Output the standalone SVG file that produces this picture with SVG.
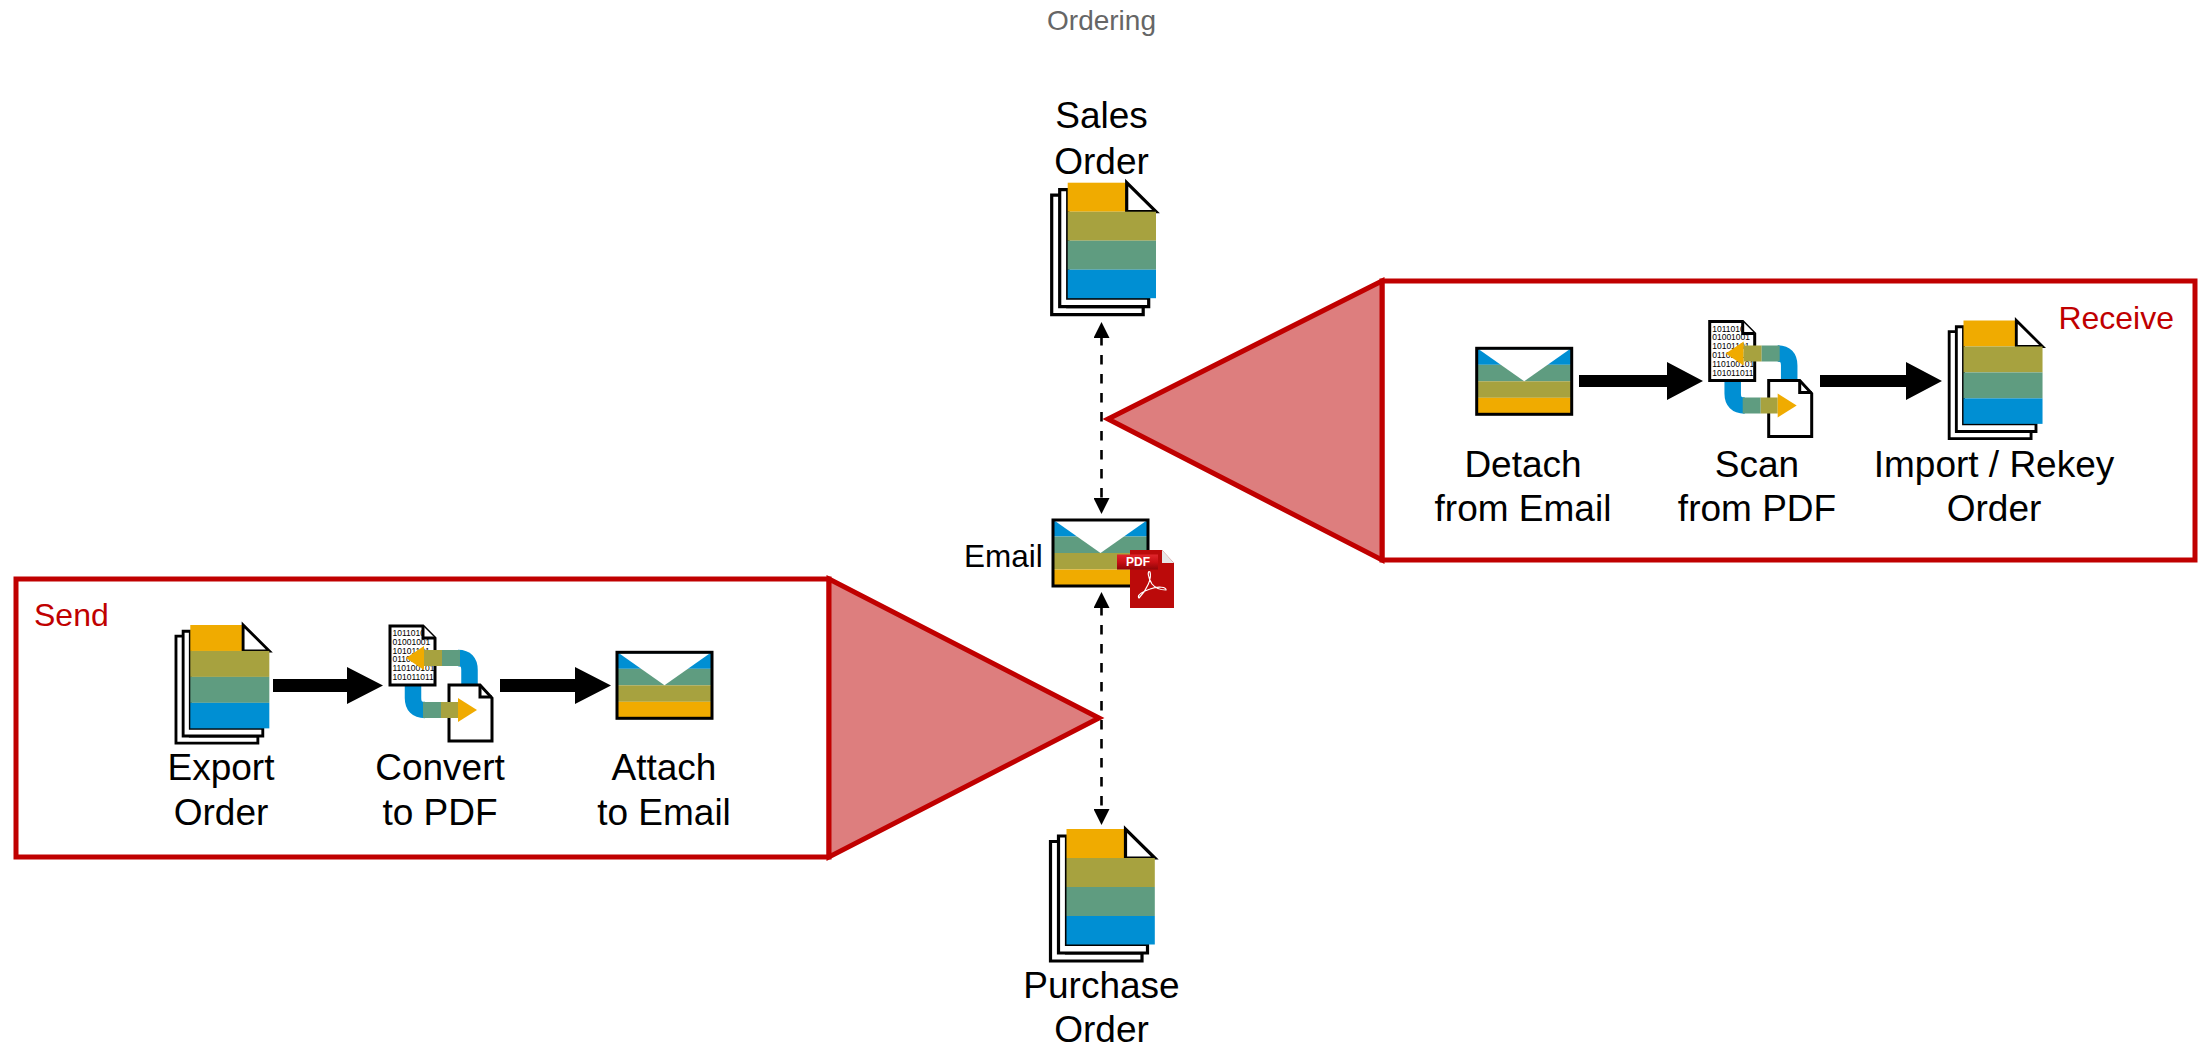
<svg xmlns="http://www.w3.org/2000/svg" width="2203" height="1045" viewBox="0 0 2203 1045">
<style>
text{font-family:"Liberation Sans",Arial,sans-serif;fill:#000}
.l{font-size:37px;text-anchor:middle}
.s{font-size:32px;fill:#c00000}
.gold{fill:#f0ab00}.olive{fill:#a7a23f}.green{fill:#5f9c80}.blue{fill:#008fd3}
.pg{fill:#fff;stroke:#000;stroke-width:3.2}
.box{fill:#fff;stroke:#c00000;stroke-width:5}
.tri{fill:#dd7e7e;stroke:#c00000;stroke-width:5;stroke-linejoin:miter}
.dash{fill:none;stroke:#000;stroke-width:2.6;stroke-dasharray:9.500 9.500}
.bin{font-size:8.500px;fill:#000}
</style>
<defs>
<marker id="ah" viewBox="0 0 16 16" refX="2" refY="8" markerWidth="16" markerHeight="16" markerUnits="userSpaceOnUse" orient="auto-start-reverse"><path d="M0 0L16 8L0 16z" fill="#000"/></marker>
<linearGradient id="ban" x1="0" y1="0" x2="0" y2="1"><stop offset="0" stop-color="#e0262c"/><stop offset=".5" stop-color="#c90f14"/><stop offset="1" stop-color="#8f0508"/></linearGradient>
<clipPath id="binclip"><path d="M391 627H423L434 639V684H391z"/></clipPath>
<g id="doc">
<path class="pg" d="M0 12.500H-16V132H75.500V124H0z"/>
<path class="pg" d="M0 7H-8V124H81V115.500H0z"/>
<rect class="gold" x="0" y="0" width="59" height="29"/>
<path d="M59 0V29H88.300z" fill="#fff" stroke="#000" stroke-width="3.200" stroke-linejoin="miter"/>
<rect class="olive" x="0" y="29" width="88.300" height="29"/>
<rect class="green" x="0" y="58" width="88.300" height="29"/>
<rect class="blue" x="0" y="87" width="88.300" height="28.500"/>
</g>
<g id="env">
<rect class="blue" x="0" y="0" width="95" height="16.500"/>
<rect class="green" x="0" y="16.500" width="95" height="16.500"/>
<rect class="olive" x="0" y="33" width="95" height="16.500"/>
<rect class="gold" x="0" y="49.500" width="95" height="16.500"/>
<path d="M2 1L47.500 33L93 1z" fill="#fff"/>
<rect x="0" y="0" width="95" height="66" fill="none" stroke="#000" stroke-width="3"/>
</g>
<g id="conv">
<path d="M413 685V698Q413 710 425 710" fill="none" stroke="#008fd3" stroke-width="16.500"/>
<path d="M458 658Q469.500 658 469.500 670V690" fill="none" stroke="#008fd3" stroke-width="16.500"/>
<path d="M449 685H480L492 698V741H449z" fill="#fff" stroke="#000" stroke-width="3"/>
<path d="M480 685V697H492" fill="none" stroke="#000" stroke-width="3"/>
<path d="M390 626H423L435 638V685H390z" fill="#fff" stroke="#000" stroke-width="3"/>
<g clip-path="url(#binclip)">
<text class="bin" x="392.500" y="636">1011010</text>
<text class="bin" x="392.500" y="644.500">01001001</text>
<text class="bin" x="392.500" y="653.500">10101101</text>
<text class="bin" x="392.500" y="662">01101011</text>
<text class="bin" x="392.500" y="671">110100101</text>
<text class="bin" x="392.500" y="680">101011011</text>
</g>
<path d="M423 626V638H435" fill="#fff" stroke="#000" stroke-width="3"/>
<path class="gold" d="M406 658L424 646V670z"/>
<rect class="olive" x="424" y="650" width="18" height="16"/>
<rect class="green" x="442" y="650" width="18" height="16"/>
<rect class="green" x="423" y="702" width="18" height="16"/>
<rect class="olive" x="441" y="702" width="17" height="16"/>
<path class="gold" d="M458 698L477 710L458 722z"/>
</g>
</defs>

<text id="title" x="1101.500" y="30" font-size="28" text-anchor="middle" style="fill:#666">Ordering</text>

<g id="connectors">
<path class="dash" d="M1101.500 336V500" marker-start="url(#ah)" marker-end="url(#ah)"/>
<path class="dash" d="M1101.500 606V811" marker-start="url(#ah)" marker-end="url(#ah)"/>
</g>

<g id="send-callout">
<rect class="box" x="16" y="579" width="813" height="278"/>
<path class="tri" d="M829 579L1099 718L829 857z"/>
<text class="s" x="34" y="626">Send</text>
</g>
<g id="receive-callout">
<rect class="box" x="1382" y="281" width="813" height="279"/>
<path class="tri" d="M1382 281L1108 419L1382 560z"/>
<text class="s" x="2174" y="329" text-anchor="end">Receive</text>
</g>

<g id="sales-order">
<use href="#doc" transform="translate(1067.700 182.700)"/>
<text class="l" x="1101.500" y="128">Sales</text>
<text class="l" x="1101.500" y="174">Order</text>
</g>
<g id="purchase-order">
<use href="#doc" transform="translate(1066.500 829)"/>
<text class="l" x="1101.500" y="998">Purchase</text>
<text class="l" x="1101.500" y="1041.500">Order</text>
</g>
<g id="email">
<use href="#env" transform="translate(1053 520)"/>
<g id="pdf">
<path d="M1130 550H1162L1174 563V608H1130z" fill="#bb0a0a"/>
<path d="M1162 550L1174 563H1162z" fill="#e6e6e6"/>
<rect x="1117" y="554.500" width="41" height="15" fill="url(#ban)"/>
<text x="1138" y="566" font-size="12" font-weight="bold" text-anchor="middle" style="fill:#fff">PDF</text>
<path d="M1139 598C1147 590 1152 578 1150 572C1147 570 1148 578 1152 584C1156 589 1162 590 1166 590C1167 587 1158 586 1150 589C1144 591 1136 595 1139 598z" fill="none" stroke="#fff" stroke-width="1.200"/>
</g>
<text x="964" y="567" font-size="31.500">Email</text>
</g>

<g id="export-order">
<use href="#doc" transform="translate(190.300 625) scale(.895)"/>
<text class="l" x="221" y="780">Export</text>
<text class="l" x="221" y="825">Order</text>
</g>
<g id="convert-pdf">
<use href="#conv"/>
<text class="l" x="440" y="780">Convert</text>
<text class="l" x="440" y="825">to PDF</text>
</g>
<g id="attach-email">
<use href="#env" transform="translate(617 652.300)"/>
<text class="l" x="664" y="780">Attach</text>
<text class="l" x="664" y="825">to Email</text>
</g>
<g id="detach-email">
<use href="#env" transform="translate(1476.700 348.300)"/>
<text class="l" x="1523" y="476.500">Detach</text>
<text class="l" x="1523" y="521">from Email</text>
</g>
<g id="scan-pdf">
<use href="#conv" transform="translate(1319.700 -304.500)"/>
<text class="l" x="1757" y="476.500">Scan</text>
<text class="l" x="1757" y="521">from PDF</text>
</g>
<g id="import-order">
<use href="#doc" transform="translate(1963.500 320.500) scale(.895)"/>
<text class="l" x="1994" y="476.500">Import / Rekey</text>
<text class="l" x="1994" y="521">Order</text>
</g>

<g id="flow-arrows" fill="#000">
<path d="M273 679H347V667L383 685.500L347 704V692H273z"/>
<path d="M500 679H575V667L611 685.500L575 704V692H500z"/>
<path d="M1579 375H1667V362L1703 381L1667 400V387H1579z"/>
<path d="M1820 375H1906V362L1942 381L1906 400V387H1820z"/>
</g>
</svg>
